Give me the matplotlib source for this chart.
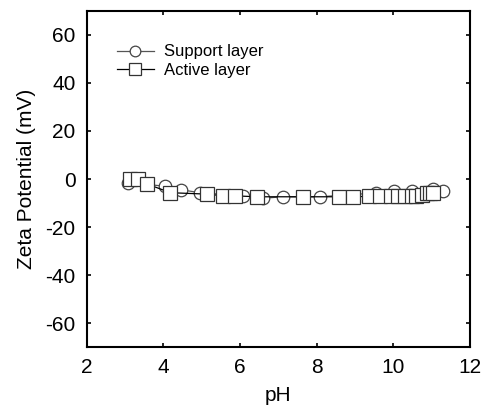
import matplotlib
matplotlib.use("Agg")
import matplotlib.pyplot as plt

plt.rcParams['font.family'] = ['Liberation Sans', 'DejaVu Sans']
plt.rcParams['axes.unicode_minus'] = False

# support layer (circles)
ph_support = [3.08, 4.04, 4.47, 4.95, 6.08, 6.60, 7.13, 8.08, 9.56, 10.03, 10.50, 11.04, 11.30]
zeta_support = [-1.5, -3.0, -4.5, -5.7, -7.0, -8.0, -7.4, -7.4, -5.8, -5.0, -5.0, -4.0, -4.8]

# active layer (squares)
ph_active = [3.12, 3.34, 3.56, 4.18, 5.14, 5.56, 5.86, 6.43, 7.63, 8.59, 8.95, 9.37,
             9.65, 9.95, 10.13, 10.30, 10.48, 10.60, 10.74, 10.87, 10.95, 11.04]
zeta_active = [0.0, 0.0, -2.0, -5.7, -6.3, -7.0, -7.0, -7.4, -7.4, -7.4, -7.4, -7.2,
               -7.0, -7.0, -7.0, -7.0, -7.0, -7.0, -6.5, -6.0, -6.0, -6.0]

fig = plt.figure(figsize=(4.85, 4.05), dpi=100)
ax = fig.add_axes([0.179, 0.143, 0.79, 0.83])

ax.plot(ph_support, zeta_support, '-o', color='#555555', lw=0.9, ms=9,
        mfc='white', mec='#444444', mew=0.9, label='Support layer')
ax.plot(ph_active, zeta_active, '-s', color='black', lw=0.9, ms=10,
        mfc='white', mec='#333333', mew=0.9, label='Active layer')

ax.set_xlim(2, 12)
ax.set_ylim(-70, 70)
ax.set_xticks([2, 4, 6, 8, 10, 12])
ax.set_yticks([-60, -40, -20, 0, 20, 40, 60])
ax.tick_params(direction='in', top=True, right=True, labelsize=15, length=3, width=1.2)
ax.tick_params(axis='x', pad=8)
ax.tick_params(axis='y', pad=8)
for s in ax.spines.values():
    s.set_linewidth(1.5)

ax.set_xlabel('pH', fontsize=15, labelpad=6)
ax.set_ylabel('Zeta Potential (mV)', fontsize=15, labelpad=7)

ax.legend(loc='upper left', frameon=False, fontsize=12, handlelength=2.2,
          handletextpad=0.6, labelspacing=0.2, markerscale=0.85,
          bbox_to_anchor=(0.04, 0.945))

fig.savefig('out.png', dpi=100)
